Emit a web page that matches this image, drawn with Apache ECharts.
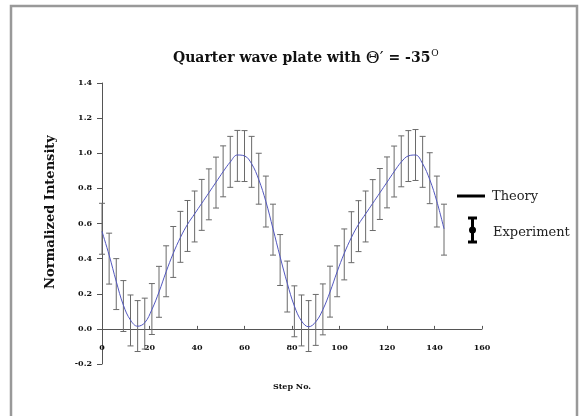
<!DOCTYPE html>
<html>
<head>
<meta charset="utf-8">
<script src="https://cdn.jsdelivr.net/npm/echarts@6.0.0/dist/echarts.min.js"></script>
<style>
html, body { margin: 0; padding: 0; background: #fff; }
#chart { width: 587px; height: 416px; }
</style>
</head>
<body>
<div id="chart"></div>
<script>
// step numbers where the intensity was measured
var steps = [0, 3, 6, 9, 12, 15, 18, 21, 24, 27, 30, 33, 36, 39, 42, 45, 48, 51, 54, 57,
    60, 63, 66, 69, 72, 75, 78, 81, 84, 87, 90, 93, 96, 99, 102, 105, 108, 111, 114, 117,
    120, 123, 126, 129, 132, 135, 138, 141, 144];

// theory curve
var theory = [0.555, 0.42, 0.27, 0.135, 0.05, 0.015, 0.035, 0.11, 0.21, 0.325, 0.43, 0.52, 0.595, 0.655, 0.715, 0.775, 0.835, 0.895, 0.95, 0.99,
    0.985, 0.94, 0.85, 0.725, 0.57, 0.41, 0.26, 0.13, 0.045, 0.012, 0.04, 0.11, 0.21, 0.325, 0.43, 0.52, 0.595, 0.655, 0.715, 0.775,
    0.835, 0.895, 0.95, 0.985, 0.99, 0.94, 0.85, 0.725, 0.57];

// experiment, centre of each error bar
var experiment = [0.57, 0.40, 0.255, 0.13, 0.048, 0.016, 0.03, 0.113, 0.211, 0.328, 0.438, 0.524, 0.586, 0.640, 0.706, 0.766, 0.833, 0.897, 0.951, 0.985,
    0.984, 0.951, 0.855, 0.725, 0.565, 0.392, 0.241, 0.10, 0.048, 0.016, 0.051, 0.111, 0.212, 0.328, 0.424, 0.522, 0.585, 0.640, 0.705, 0.768,
    0.834, 0.896, 0.954, 0.984, 0.99, 0.951, 0.858, 0.725, 0.565];

var errorHalf = 0.145;

var serif = '"DejaVu Serif", "Liberation Serif", serif';

var theoryData = steps.map(function (s, i) { return [s, theory[i]]; });
var expData = steps.map(function (s, i) { return [s, experiment[i]]; });

function errorBar(params, api) {
    var x = api.value(0);
    var y = api.value(1);
    var top = api.coord([x, y + errorHalf]);
    var bot = api.coord([x, y - errorHalf]);
    var w = 3;
    var st = { stroke: '#6a6a6a', lineWidth: 1 };
    return {
        type: 'group',
        children: [
            { type: 'line', shape: { x1: top[0], y1: top[1], x2: bot[0], y2: bot[1] }, style: st },
            { type: 'line', shape: { x1: top[0] - w, y1: top[1], x2: top[0] + w, y2: top[1] }, style: st },
            { type: 'line', shape: { x1: bot[0] - w, y1: bot[1], x2: bot[0] + w, y2: bot[1] }, style: st }
        ]
    };
}

var option = {
    backgroundColor: '#fff',
    animation: false,
    title: {
        text: 'Quarter wave plate with {th|Θ′} = -35{sup|O}',
        left: 168,
        top: 44,
        textStyle: {
            fontFamily: serif,
            fontSize: 14,
            fontWeight: 'bold',
            color: '#111',
            rich: {
                th: { fontFamily: serif, fontSize: 17, fontWeight: 'normal', color: '#111' },
                sup: { fontFamily: serif, fontSize: 9, fontWeight: 'normal', color: '#111', verticalAlign: 'top', padding: [0, 0, 10, 1] }
            }
        }
    },
    grid: { left: 102, right: 105, top: 83, bottom: 52, outerBoundsMode: 'none' },
    xAxis: {
        type: 'value',
        min: 0,
        max: 160,
        interval: 20,
        name: 'Step No.',
        nameLocation: 'middle',
        nameGap: 19,
        nameTextStyle: { fontFamily: serif, fontSize: 8, fontWeight: 'bold', color: '#111' },
        axisLine: { onZero: true, lineStyle: { color: '#555', width: 1 } },
        axisTick: { inside: true, length: 3, lineStyle: { color: '#555' } },
        axisLabel: { margin: -20, fontFamily: serif, fontSize: 8, fontWeight: 'bold', color: '#111' },
        splitLine: { show: false }
    },
    yAxis: {
        type: 'value',
        min: -0.2,
        max: 1.4,
        interval: 0.2,
        axisLine: { show: true, lineStyle: { color: '#555', width: 1 } },
        axisTick: { show: true, length: 5, lineStyle: { color: '#555' } },
        axisLabel: {
            margin: 10,
            fontFamily: serif,
            fontSize: 8,
            fontWeight: 'bold',
            color: '#111',
            formatter: function (v) { return v.toFixed(1); }
        },
        splitLine: { show: false }
    },
    series: [
        {
            name: 'Experiment',
            type: 'custom',
            renderItem: errorBar,
            data: expData,
            z: 2
        },
        {
            name: 'Theory',
            type: 'line',
            data: theoryData,
            smooth: 0.4,
            showSymbol: false,
            lineStyle: { color: '#5257c0', width: 1 },
            z: 3
        }
    ],
    graphic: [
        // outer frame
        { type: 'rect', shape: { x: 11, y: 6, width: 566, height: 420 }, style: { fill: 'none', stroke: '#999', lineWidth: 2.5 }, silent: true },
        // y axis title
        {
            type: 'text', x: 51, y: 212, rotation: Math.PI / 2,
            style: { text: 'Normalized Intensity', fontFamily: serif, fontSize: 13, fontWeight: 'bold', fill: '#111', align: 'center', verticalAlign: 'middle' }
        },
        // legend: theory
        { type: 'line', shape: { x1: 457, y1: 196, x2: 485, y2: 196 }, style: { stroke: '#000', lineWidth: 3 } },
        { type: 'text', x: 492, y: 197, style: { text: 'Theory', fontFamily: serif, fontSize: 13, fill: '#222', verticalAlign: 'middle' } },
        // legend: experiment
        { type: 'line', shape: { x1: 472.5, y1: 218, x2: 472.5, y2: 242 }, style: { stroke: '#000', lineWidth: 3 } },
        { type: 'line', shape: { x1: 468, y1: 218, x2: 477, y2: 218 }, style: { stroke: '#000', lineWidth: 3 } },
        { type: 'line', shape: { x1: 468, y1: 242, x2: 477, y2: 242 }, style: { stroke: '#000', lineWidth: 3 } },
        { type: 'circle', shape: { cx: 472.5, cy: 230, r: 3.5 }, style: { fill: '#000' } },
        { type: 'text', x: 493, y: 233, style: { text: 'Experiment', fontFamily: serif, fontSize: 13, fill: '#222', verticalAlign: 'middle' } }
    ]
};

var chart = echarts.init(document.getElementById('chart'));
chart.setOption(option);
</script>
</body>
</html>
